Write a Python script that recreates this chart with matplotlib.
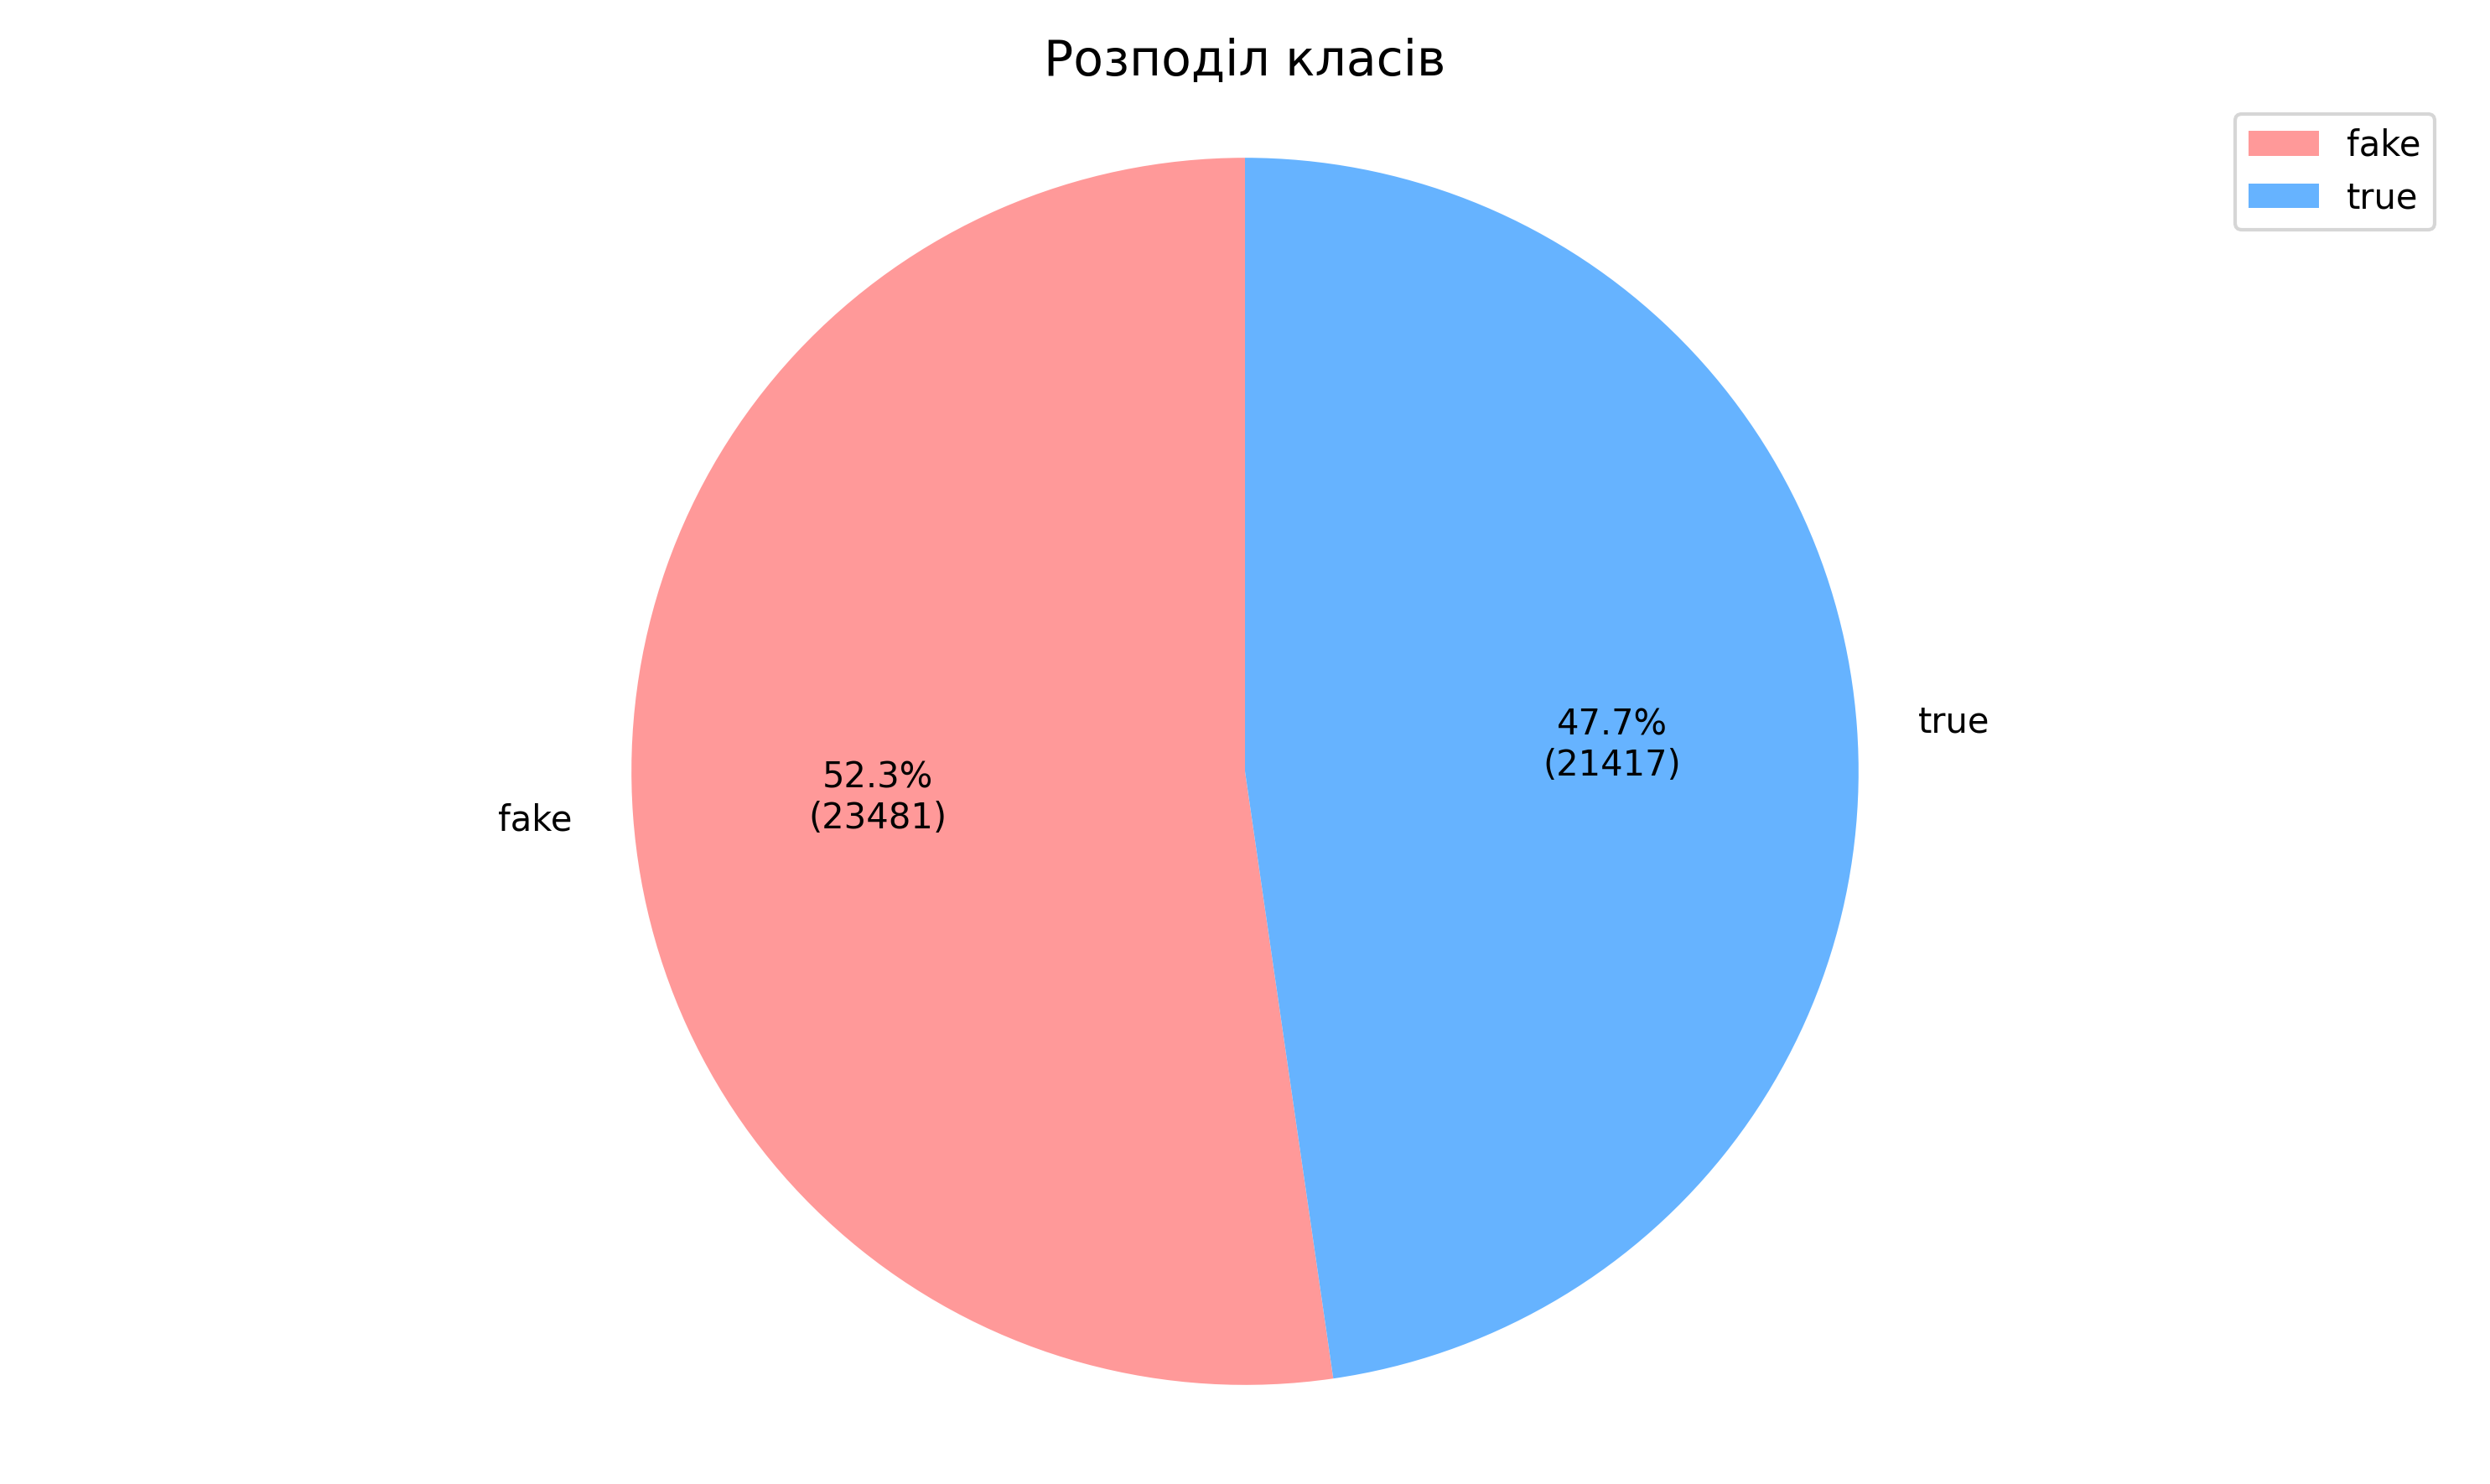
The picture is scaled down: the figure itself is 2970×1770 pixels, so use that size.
import matplotlib.pyplot as plt

labels = ["fake", "true"]
counts = [23481, 21417]
colors = ["#ff9999", "#66b3ff"]

total = sum(counts)


def fmt(pct):
    return f"{pct:.1f}%\n({int(round(pct * total / 100))})"


fig, ax = plt.subplots(figsize=(9.9, 5.9))
ax.pie(counts, labels=labels, colors=colors, autopct=fmt, startangle=90)
ax.axis("equal")
ax.set_title("Розподіл класів", fontsize=14)
ax.legend(loc="upper right")
plt.tight_layout()
fig.savefig("out.png", dpi=300)
